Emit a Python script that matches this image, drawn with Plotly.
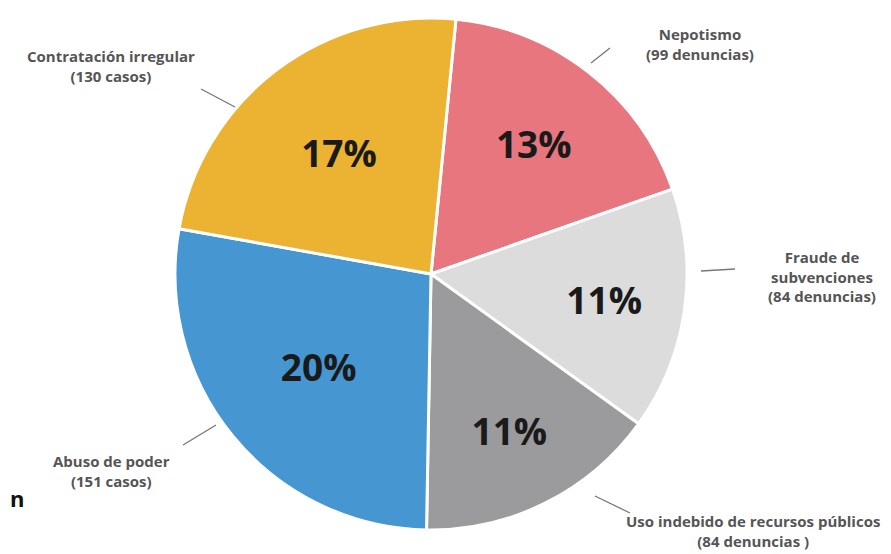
import plotly.graph_objects as go

categories = ["Nepotismo", "Fraude de subvenciones", "Uso indebido de recursos públicos",
              "Abuso de poder", "Contratación irregular"]
counts = [99, 84, 84, 151, 130]
pct_labels = ["13%", "11%", "11%", "20%", "17%"]
outer_labels = ["Nepotismo<br>(99 denuncias)",
                "Fraude de<br>subvenciones<br>(84 denuncias)",
                "Uso indebido de recursos públicos<br>(84 denuncias )",
                "Abuso de poder<br>(151 casos)",
                "Contratación irregular<br>(130 casos)"]
colors = ["#E8767E", "#DCDCDC", "#9B9B9D", "#4596D1", "#ECB332"]

W, H = 891, 554
cx, cy, r = 423, 266, 256

fig = go.Figure(go.Pie(
    labels=categories, values=counts, text=pct_labels,
    textinfo="text", textposition="inside", insidetextorientation="horizontal",
    sort=False, direction="clockwise", rotation=5.6,
    marker=dict(colors=colors, line=dict(color="white", width=3)),
    insidetextfont=dict(family="Open Sans", size=37, color="#1a1a1a", weight="bold"),
    domain=dict(x=[(cx - r) / W, (cx + r) / W], y=[(H - cy - r) / H, (H - cy + r) / H]),
    showlegend=False, hoverinfo="label+value",
))

# outer label positions (px) and leader lines (px)
label_pos = [(692, 36), (814, 268), (745, 523), (103, 463), (103, 58)]
leaders = [((583, 55), (602, 40)), ((693, 263), (727, 261)), ((587, 488), (622, 505)),
           ((175, 437), (208, 417)), ((193, 81), (227, 99))]

annotations = []
shapes = []
for txt, (px, py), ((x0, y0), (x1, y1)) in zip(outer_labels, label_pos, leaders):
    annotations.append(dict(text=txt, x=px / W, y=1 - py / H, xref="paper", yref="paper",
                            showarrow=False, xanchor="center", yanchor="middle",
                            font=dict(family="Open Sans", size=15, color="#555555", weight="bold"),
                            align="center"))
    shapes.append(dict(type="line", xref="paper", yref="paper",
                       x0=x0 / W, y0=1 - y0 / H, x1=x1 / W, y1=1 - y1 / H,
                       line=dict(color="#777777", width=1.3)))

annotations.append(dict(text="n", x=0, y=1 - 490 / H, xref="paper", yref="paper",
                        showarrow=False, xanchor="left", yanchor="middle",
                        font=dict(family="Open Sans", size=22, color="#111111", weight="bold")))

fig.update_layout(width=W, height=H, margin=dict(l=0, r=0, t=0, b=0),
                  paper_bgcolor="white", plot_bgcolor="white",
                  annotations=annotations, shapes=shapes)

fig.write_html("out.html")
